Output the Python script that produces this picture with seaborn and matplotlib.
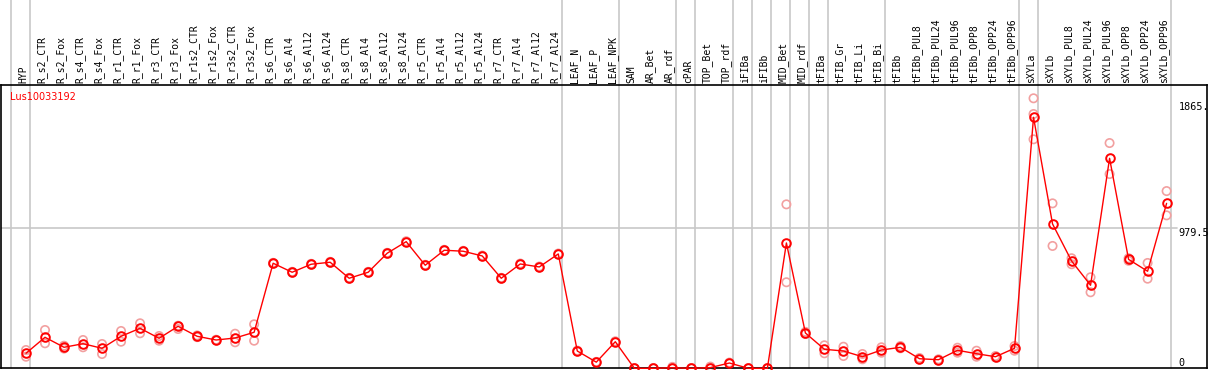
import numpy as np
import pandas as pd
import matplotlib
matplotlib.use("Agg")
import matplotlib.pyplot as plt
import matplotlib.transforms as mtransforms
import seaborn as sns

# --- data ---
gene = "Lus10033192"
samples = ["HYP",
           "R_s2_CTR", "R_s2_Fox", "R_s4_CTR", "R_s4_Fox", "R_r1_CTR", "R_r1_Fox",
           "R_r3_CTR", "R_r3_Fox", "R_r1s2_CTR", "R_r1s2_Fox", "R_r3s2_CTR", "R_r3s2_Fox",
           "R_s6_CTR", "R_s6_Al4", "R_s6_Al12", "R_s6_Al24",
           "R_s8_CTR", "R_s8_Al4", "R_s8_Al12", "R_s8_Al24",
           "R_r5_CTR", "R_r5_Al4", "R_r5_Al12", "R_r5_Al24",
           "R_r7_CTR", "R_r7_Al4", "R_r7_Al12", "R_r7_Al24",
           "LEAF_N", "LEAF_P", "LEAF_NPK", "SAM", "AR_Bet", "AR_rdf", "cPAR",
           "TOP_Bet", "TOP_rdf", "iFIBa", "iFIBb", "MID_Bet", "MID_rdf",
           "tFIBa", "tFIB_Gr", "tFIB_Li", "tFIB_Bi",
           "tFIBb", "tFIBb_PUL8", "tFIBb_PUL24", "tFIBb_PUL96",
           "tFIBb_OPP8", "tFIBb_OPP24", "tFIBb_OPP96",
           "sXYLa", "sXYLb", "sXYLb_PUL8", "sXYLb_PUL24", "sXYLb_PUL96",
           "sXYLb_OPP8", "sXYLb_OPP24", "sXYLb_OPP96"]

means = [105, 217, 147, 172, 140, 224, 280, 210, 294, 224, 198, 212, 252,
         735, 672, 728, 742, 630, 672, 805, 886, 721, 826, 819, 786, 630, 730, 709, 800,
         121, 43, 186, 0, 0, 4, 0, 5, 37, 0, 0, 877, 247,
         133, 121, 81, 128, 147, 67, 60, 126, 102, 81, 140,
         1756, 1010, 751, 581, 1469, 762, 679, 1154]

reps = [(128, 81), (268, 175), (158, 138), (198, 147), (170, 100), (261, 186),
        (315, 245), (226, 193), (298, 275), (230, 218), (200, 196), (242, 182),
        (308, 193),
        (738, 732), (675, 669), (731, 725), (745, 739), (633, 627), (675, 669),
        (808, 802), (889, 883), (724, 718), (829, 823), (822, 816), (789, 783),
        (633, 627), (733, 727), (712, 706), (803, 797),
        (124, 118), (45, 41), (189, 183), (2, 0), (2, 0), (10, 0), (2, 0),
        (12, 0), (40, 34), (2, 0), (2, 0), (1147, 602), (255, 240),
        (161, 105), (151, 86), (100, 63), (147, 109), (156, 140), (72, 62),
        (63, 57), (144, 109), (123, 81), (86, 76), (156, 123),
        (1889, 1779, 1602), (1154, 856), (770, 728), (637, 532), (1576, 1359),
        (770, 752), (737, 627), (1240, 1070)]

# groups end after these sample indices (gray separators)
group_ends = [-1, 0, 28, 31, 34, 35, 37, 38, 39, 40, 41, 42, 45, 52, 53, 60]
ytick_vals = [1865, 979.5, 0]
ytick_text = ["1865.", "979.5", "0"]

# --- tidy frames ---
df = pd.DataFrame({"pos": np.arange(len(samples)), "sample": samples, "expr": means})
rep_rows = [(i, v) for i, r in enumerate(reps) for v in r]
df_rep = pd.DataFrame(rep_rows, columns=["pos", "expr"])

# --- plot ---
sns.set_style("white")
plt.rcParams["font.family"] = ["DejaVu Sans Mono", "DejaVu Sans"]
plt.rcParams["text.color"] = "black"

fig = plt.figure(figsize=(12.09, 3.70), dpi=100)
W, H = 1209, 370
ax = fig.add_axes([1 / W, 1.7 / H, 1206 / W, 283.3 / H])

x_of = lambda px: (px - 26) / 19.01
ax.set_xlim(x_of(1), x_of(1207))
ax.set_ylim(0, 1982)

# separators and grid line
for g in group_ends:
    ax.axvline(g + 4 / 19.01, ymin=0, ymax=1.31, color="#c8c8c8", lw=1.2,
               clip_on=False, zorder=0)
ax.axhline(979.5, xmin=0, xmax=0.975, color="#c8c8c8", lw=1.2, zorder=0)

sns.scatterplot(data=df_rep, x="pos", y="expr", ax=ax, marker="o", s=36,
                facecolor="none", edgecolor="#f2a0a0", linewidth=1.2,
                clip_on=False, zorder=2)
sns.lineplot(data=df, x="pos", y="expr", ax=ax, color="red", lw=1.0,
             marker="o", markersize=6.2, markerfacecolor="none",
             markeredgecolor="red", markeredgewidth=1.4, clip_on=False, zorder=3)

# header labels
trans_x = mtransforms.blended_transform_factory(ax.transData, ax.transAxes)
for i, name in enumerate(samples):
    ax.text(i - 3 / 19.01, 1.008, name, rotation=90, ha="center", va="bottom",
            fontsize=7, color="black", transform=trans_x, clip_on=False)

# value labels on the right
trans_y = mtransforms.blended_transform_factory(ax.transAxes, ax.transData)
for v, t in zip(ytick_vals, ytick_text):
    ax.text(0.9765, v, t, ha="left", va="bottom" if v == 0 else "top",
            fontsize=7.3, color="black", transform=trans_y)

ax.text(9 / 1206, 1 - 12.5 / 283.3, gene, color="red", fontsize=7,
        family="DejaVu Sans", ha="left", va="center", transform=ax.transAxes)

ax.set_xticks([])
ax.set_yticks([])
ax.set_xlabel("")
ax.set_ylabel("")
for s in ax.spines.values():
    s.set_color("black")
    s.set_linewidth(1.2)

fig.savefig("out.png", dpi=100)
